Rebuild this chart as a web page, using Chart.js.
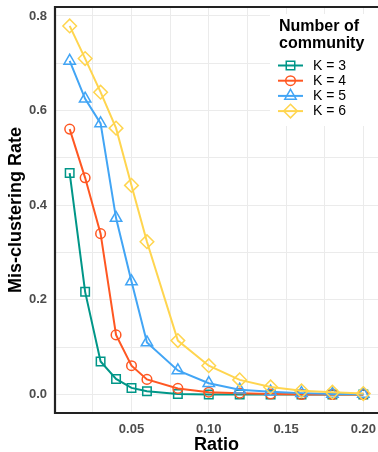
<!DOCTYPE html>
<html>
<head>
<meta charset="utf-8">
<style>
  html, body { margin: 0; padding: 0; background: #ffffff; }
  #wrap { width: 378px; height: 452px; }
</style>
<script src="https://cdn.jsdelivr.net/npm/chart.js@4/dist/chart.umd.min.js"></script>
</head>
<body>
<div id="wrap"><canvas id="c" width="378" height="452"></canvas></div>
<script>
// Sampling ratios
const ratios = [0.01, 0.02, 0.03, 0.04, 0.05, 0.06, 0.08, 0.10, 0.12, 0.14, 0.16, 0.18, 0.20];

// Mis-clustering rate for each number of communities
const rateK3 = [0.468, 0.217, 0.070, 0.033, 0.014, 0.007, 0.001, 0.000, 0.000, 0.000, 0.000, 0.000, 0.000];
const rateK4 = [0.561, 0.458, 0.340, 0.126, 0.061, 0.032, 0.013, 0.005, 0.003, 0.001, 0.000, 0.000, 0.000];
const rateK5 = [0.705, 0.625, 0.573, 0.373, 0.239, 0.110, 0.051, 0.024, 0.010, 0.006, 0.003, 0.001, 0.001];
const rateK6 = [0.779, 0.710, 0.639, 0.563, 0.442, 0.323, 0.114, 0.061, 0.031, 0.016, 0.008, 0.005, 0.002];

const seriesLabels = ['K = 3', 'K = 4', 'K = 5', 'K = 6'];
const seriesColors = ['#009688', '#FF5722', '#42A5F5', '#FFD54F'];
const seriesShapes = ['rect', 'circle', 'triangle', 'rectRot'];
const seriesRadius = [6, 4.8, 6.6, 6.8];
const seriesValues = [rateK3, rateK4, rateK5, rateK6];

const xTicks = [0.025, 0.05, 0.075, 0.10, 0.125, 0.15, 0.175, 0.20];
const yTicks = [0, 0.1, 0.2, 0.3, 0.4, 0.5, 0.6, 0.7, 0.8];
const legendTitle = ['Number of', 'community'];

const FONT = "'Liberation Sans', Arial, Helvetica, sans-serif";

const datasets = seriesValues.map((vals, i) => ({
  label: seriesLabels[i],
  data: ratios.map((r, j) => ({ x: r, y: vals[j] })),
  borderColor: seriesColors[i],
  backgroundColor: 'rgba(0,0,0,0)',
  borderWidth: 2,
  pointStyle: seriesShapes[i],
  pointRadius: seriesRadius[i],
  pointBorderWidth: 1.5,
  pointBorderColor: seriesColors[i],
  pointBackgroundColor: 'rgba(0,0,0,0)',
  tension: 0,
  showLine: true,
  order: seriesLabels.length - i
}));

function noScalePadding(scale) {
  scale.paddingTop = 0;
  scale.paddingBottom = 0;
  scale.paddingLeft = 0;
  scale.paddingRight = 0;
}

// Panel frame + legend box drawn over the plot
const framePlugin = {
  id: 'frame',
  afterDatasetsDraw(chart) {
    const { ctx, chartArea } = chart;
    const { left, right, top, bottom } = chartArea;
    ctx.save();
    ctx.strokeStyle = '#222222';
    ctx.lineWidth = 2.2;
    ctx.beginPath();
    ctx.moveTo(left, top);
    ctx.lineTo(right, top);
    ctx.moveTo(left, top - 1.1);
    ctx.lineTo(left, bottom);
    ctx.lineTo(right, bottom);
    ctx.stroke();

    // legend
    const bx = 270, by = 14, bw = 108, bh = 112;
    ctx.fillStyle = '#ffffff';
    ctx.fillRect(bx, by, bw, bh);
    ctx.fillStyle = '#000000';
    ctx.font = 'bold 16px ' + FONT;
    ctx.textBaseline = 'middle';
    ctx.textAlign = 'left';
    ctx.fillText(legendTitle[0], 279, 27);
    ctx.fillText(legendTitle[1], 279, 44);

    ctx.font = '14px ' + FONT;
    chart.data.datasets.forEach((ds, i) => {
      const cy = 65.5 + i * 15.2;
      const cx = 290.5;
      ctx.strokeStyle = ds.borderColor;
      ctx.lineWidth = 2;
      ctx.beginPath();
      ctx.moveTo(278, cy);
      ctx.lineTo(303, cy);
      ctx.stroke();
      ctx.lineWidth = 1.5;
      ctx.beginPath();
      const r = ds.pointRadius;
      if (ds.pointStyle === 'rect') {
        const s = r * Math.SQRT1_2;
        ctx.rect(cx - s, cy - s, 2 * s, 2 * s);
      } else if (ds.pointStyle === 'circle') {
        ctx.arc(cx, cy, r, 0, Math.PI * 2);
      } else if (ds.pointStyle === 'triangle') {
        ctx.moveTo(cx, cy - r);
        ctx.lineTo(cx + r * Math.cos(Math.PI / 6), cy + r * 0.5);
        ctx.lineTo(cx - r * Math.cos(Math.PI / 6), cy + r * 0.5);
        ctx.closePath();
      } else {
        ctx.moveTo(cx, cy - r);
        ctx.lineTo(cx + r, cy);
        ctx.lineTo(cx, cy + r);
        ctx.lineTo(cx - r, cy);
        ctx.closePath();
      }
      ctx.stroke();
      ctx.fillStyle = '#000000';
      ctx.fillText(ds.label, 313, cy + 0.5);
    });
    ctx.restore();
  }
};

new Chart(document.getElementById('c'), {
  type: 'scatter',
  data: { datasets },
  plugins: [framePlugin],
  options: {
    responsive: false,
    devicePixelRatio: 1,
    animation: false,
    layout: { autoPadding: false, padding: { top: 7, right: 0, bottom: 0, left: 0 } },
    plugins: { legend: { display: false }, tooltip: { enabled: false } },
    scales: {
      x: {
        type: 'linear',
        min: 0.0005,
        max: 0.2095,
        afterBuildTicks(scale) { scale.ticks = xTicks.map(v => ({ value: v })); },
        afterFit(scale) { scale.height = 39; noScalePadding(scale); },
        border: { display: false },
        grid: { color: '#EBEBEB', lineWidth: 1, drawTicks: false },
        ticks: {
          padding: 9,
          autoSkip: false,
          maxRotation: 0,
          color: '#4D4D4D',
          font: { family: FONT, size: 13, weight: 'bold' },
          callback(v) {
            const k = Math.round(v * 1000);
            return k % 50 === 0 ? (k / 1000).toFixed(2) : '';
          }
        },
        title: {
          display: true,
          text: 'Ratio',
          color: '#000000',
          font: { family: FONT, size: 18, weight: 'bold', lineHeight: 1.0 },
          padding: { top: 0, bottom: -2 }
        }
      },
      y: {
        type: 'linear',
        min: -0.039,
        max: 0.819,
        afterBuildTicks(scale) { scale.ticks = yTicks.map(v => ({ value: v })); },
        afterFit(scale) { scale.width = 55; noScalePadding(scale); },
        border: { display: false },
        grid: { color: '#EBEBEB', lineWidth: 1, drawTicks: false },
        ticks: {
          padding: 8,
          autoSkip: false,
          color: '#4D4D4D',
          font: { family: FONT, size: 13, weight: 'bold' },
          callback(v) {
            const k = Math.round(v * 10);
            return k % 2 === 0 ? (k / 10).toFixed(1) : '';
          }
        },
        title: {
          display: true,
          text: 'Mis-clustering Rate',
          color: '#000000',
          font: { family: FONT, size: 18, weight: 'bold' },
          padding: { top: 5, bottom: 0 }
        }
      }
    }
  }
});
</script>
</body>
</html>
